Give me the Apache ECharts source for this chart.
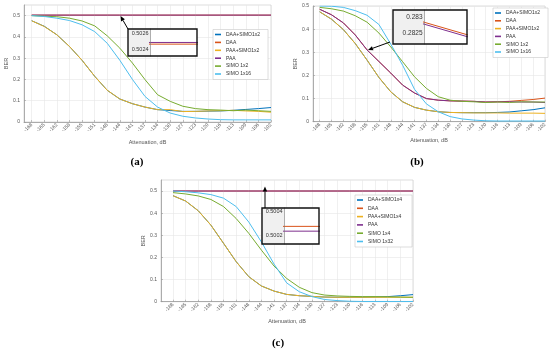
<!DOCTYPE html>
<html><head><meta charset="utf-8">
<script src="https://cdn.jsdelivr.net/npm/echarts@6/dist/echarts.min.js"></script>
<style>html,body{margin:0;padding:0;background:#fff}#c{width:550px;height:355px}</style>
</head><body><div id="c"></div>
<script>
// ---------- data ----------
const tickLabels = ['-168','-165','-162','-158','-155','-151','-148','-144','-141','-137','-134','-130','-127','-123','-120','-116','-113','-109','-106','-102'];
const xIndex = [0,1,2,3,4,5,6,7,8,9,10,11,12,13,14,15,16,17,18,19];
const yTicks = [0,0.1,0.2,0.3,0.4,0.5];

const namesAB = ['DAA+SIMO1x2','DAA','PAA+SIMO1x2','PAA','SIMO 1x2','SIMO 1x16'];
const namesC  = ['DAA+SIMO1x4','DAA','PAA+SIMO1x4','PAA','SIMO 1x4','SIMO 1x32'];

// (a)
const aDaaSimo = [0.476,0.45,0.41,0.355,0.29,0.215,0.149,0.108,0.086,0.07,0.058,0.054,0.05,0.05,0.051,0.052,0.055,0.059,0.063,0.068];
const aDaa     = [0.50247,0.50247,0.50247,0.50247,0.50247,0.50247,0.50247,0.50247,0.50247,0.50247,0.50247,0.50247,0.50247,0.50247,0.50247,0.50247,0.50247,0.50247,0.50247,0.50247];
const aPaaSimo = [0.476,0.449,0.41,0.355,0.29,0.215,0.149,0.108,0.086,0.07,0.058,0.058,0.049,0.05,0.052,0.053,0.055,0.052,0.05,0.046];
const aPaa     = [0.50249,0.50249,0.50249,0.50249,0.50249,0.50249,0.50249,0.50249,0.50249,0.50249,0.50249,0.50249,0.50249,0.50249,0.50249,0.50249,0.50249,0.50249,0.50249,0.50249];
const aSimo2   = [0.5,0.497,0.495,0.488,0.475,0.452,0.405,0.347,0.277,0.199,0.128,0.097,0.074,0.063,0.058,0.056,0.053,0.056,0.053,0.05];
const aSimo16  = [0.5,0.496,0.488,0.477,0.457,0.425,0.37,0.29,0.2,0.12,0.07,0.042,0.027,0.019,0.014,0.011,0.01,0.01,0.01,0.01];

// (b)
const bDaaSimo = [0.475,0.443,0.398,0.338,0.266,0.191,0.129,0.086,0.062,0.05,0.043,0.04,0.039,0.039,0.039,0.04,0.042,0.047,0.052,0.06];
const bDaa     = [0.486,0.462,0.427,0.375,0.31006,0.26006,0.21,0.158,0.124,0.1,0.093,0.09,0.089,0.088,0.085,0.086,0.088,0.092,0.096,0.102];
const bPaaSimo = [0.475,0.443,0.398,0.338,0.266,0.191,0.129,0.086,0.062,0.05,0.043,0.04,0.039,0.038,0.038,0.038,0.037,0.037,0.037,0.036];
const bPaa     = [0.486,0.462,0.427,0.375,0.31,0.26,0.21,0.158,0.124,0.1,0.093,0.09,0.089,0.088,0.085,0.086,0.086,0.085,0.085,0.083];
const bSimo2   = [0.494,0.488,0.478,0.458,0.43,0.383,0.323,0.259,0.194,0.144,0.108,0.093,0.088,0.086,0.083,0.085,0.083,0.086,0.085,0.085];
const bSimo16  = [0.5,0.499,0.494,0.48,0.46,0.42,0.335,0.244,0.14,0.077,0.043,0.022,0.012,0.007,0.004,0.003,0.003,0.003,0.003,0.003];

// (c)
const cDaaSimo = [0.479,0.455,0.411,0.346,0.264,0.181,0.113,0.071,0.048,0.033,0.027,0.024,0.021,0.02,0.02,0.02,0.021,0.023,0.027,0.032];
const cDaa     = [0.50028,0.50028,0.50028,0.50028,0.50028,0.50028,0.50028,0.50028,0.50028,0.50028,0.50028,0.50028,0.50028,0.50028,0.50028,0.50028,0.50028,0.50028,0.50028,0.50028];
const cPaaSimo = [0.479,0.455,0.411,0.346,0.264,0.181,0.113,0.071,0.048,0.033,0.027,0.024,0.021,0.02,0.02,0.02,0.02,0.02,0.02,0.02];
const cPaa     = [0.50024,0.50024,0.50024,0.50024,0.50024,0.50024,0.50024,0.50024,0.50024,0.50024,0.50024,0.50024,0.50024,0.50024,0.50024,0.50024,0.50024,0.50024,0.50024,0.50024];
const cSimo4   = [0.493,0.487,0.478,0.462,0.43,0.376,0.309,0.233,0.161,0.105,0.065,0.041,0.03,0.026,0.024,0.023,0.023,0.022,0.021,0.02];
const cSimo32  = [0.5,0.497,0.492,0.484,0.468,0.43,0.36,0.27,0.17,0.085,0.045,0.023,0.01,0.005,0.002,0.001,0.001,0.001,0.001,0.001];

const insetTicksA = [0.5024,0.5026];
const insetTicksB = [0.2825,0.283];
const insetTicksC = [0.5002,0.5004];

// ---------- styling ----------
const FONT = 'Liberation Sans';
const lineColors = ['#0072BD','#D95319','#EDB120','#7E2F8E','#77AC30','#4DBEEE'];
const axisGrey = '#9a9a9a';
const gridGrey = '#e6e6e6';
const labelGrey = '#555';

const chart = echarts.init(document.getElementById('c'), null, {renderer:'canvas'});

function mainX(gi, min, nameGap) {
  return {
    type:'value', gridIndex:gi, min:min, max:19,
    axisLine:{show:true, onZero:false, lineStyle:{color:axisGrey, width:0.8}},
    axisTick:{show:true, inside:true, length:2, customValues:xIndex, lineStyle:{color:axisGrey, width:0.6}},
    axisLabel:{customValues:xIndex, formatter:v => tickLabels[Math.round(v)], rotate:45, fontSize:5, margin:2, color:labelGrey, fontFamily:FONT},
    splitLine:{show:true, lineStyle:{color:gridGrey, width:0.6}},
    name:'Attenuation, dB', nameLocation:'middle', nameGap:nameGap,
    nameTextStyle:{fontSize:5.5, color:labelGrey, fontFamily:FONT}
  };
}
function mainY(gi, max) {
  return {
    type:'value', gridIndex:gi, min:0, max:max,
    axisLine:{show:true, onZero:false, lineStyle:{color:axisGrey, width:0.8}},
    axisTick:{show:true, inside:true, length:2, customValues:yTicks, lineStyle:{color:axisGrey, width:0.6}},
    axisLabel:{customValues:yTicks, fontSize:5, margin:4, color:labelGrey, fontFamily:FONT},
    splitLine:{show:true, lineStyle:{color:gridGrey, width:0.6}},
    name:'BER', nameLocation:'middle', nameGap:12,
    nameTextStyle:{fontSize:5.5, color:labelGrey, fontFamily:FONT}
  };
}
function insetX(gi, min, max) {
  return {type:'value', gridIndex:gi, min:min, max:max, show:false};
}
function insetY(gi, min, max, ticks, fs) {
  return {
    type:'value', gridIndex:gi, min:min, max:max, z:6,
    axisLine:{show:true, onZero:false, lineStyle:{color:'#777', width:0.6}},
    axisTick:{show:false},
    axisLabel:{customValues:ticks, formatter:v => String(+v.toFixed(4)), fontSize:fs, margin:1.5, color:'#333', fontFamily:FONT},
    splitLine:{show:false}
  };
}

function seriesSet(names, arrays, xi, yi, z) {
  return arrays.map((arr, k) => ({
    name:names[k], type:'line', xAxisIndex:xi, yAxisIndex:yi,
    data:arr.map((v, i) => [xIndex[i], v]),
    showSymbol:false, symbol:'none', z:z, clip:true,
    color:lineColors[k],
    lineStyle:{width:1, color:lineColors[k]},
    animation:false
  }));
}
function insetSet(names, arrays, colorIdx, xi, yi) {
  return arrays.map((arr, k) => ({
    name:names[k], type:'line', xAxisIndex:xi, yAxisIndex:yi,
    data:arr.map((v, i) => [xIndex[i], v]),
    showSymbol:false, symbol:'none', z:4, clip:true,
    color:lineColors[colorIdx[k]],
    lineStyle:{width:1, color:lineColors[colorIdx[k]]},
    animation:false
  }));
}

function legend(names, left, top, gap, padRight) {
  return {
    data:names, orient:'vertical', left:left, top:top,
    icon:'rect', itemWidth:6, itemHeight:1.6, itemGap:gap,
    padding:[2, padRight, 2.5, 2],
    backgroundColor:'#fff', borderColor:'#c8c8c8', borderWidth:0.6,
    textStyle:{fontSize:5, lineHeight:6, color:'#333', fontFamily:FONT},
    selectedMode:false, z:5
  };
}

function arrow(x1, y1, x2, y2) {
  const dx = x2 - x1, dy = y2 - y1, L = Math.hypot(dx, dy);
  const ux = dx / L, uy = dy / L, px = -uy, py = ux;
  const hl = 5, hw = 2.2;
  const bx = x2 - ux * hl, by = y2 - uy * hl;
  return [
    {type:'line', z:10, shape:{x1:x1, y1:y1, x2:bx, y2:by}, style:{stroke:'#000', lineWidth:1}},
    {type:'polygon', z:10, shape:{points:[[x2, y2],[bx + px*hw, by + py*hw],[bx - px*hw, by - py*hw]]}, style:{fill:'#000'}}
  ];
}
function insetFrame(x, y, w, h, plotX) {
  return [
    {type:'rect', z:1, shape:{x:x, y:y, width:w, height:h}, style:{fill:'#f0f0f0'}},
    {type:'rect', z:1, shape:{x:plotX, y:y, width:x + w - plotX, height:h}, style:{fill:'#fff'}},
    {type:'rect', z:10, shape:{x:x, y:y, width:w, height:h}, style:{fill:'none', stroke:'#111', lineWidth:1.4}}
  ];
}
function panelLabel(text, x, y) {
  return {type:'text', z:10, x:x, y:y, style:{text:text, font:'bold 11px "Liberation Serif"', fill:'#000', align:'center', verticalAlign:'middle'}};
}

const option = {
  animation:false,
  backgroundColor:'#fff',
  textStyle:{fontFamily:FONT},
  grid:[
    {left:24, top:5, width:247, height:117, show:true, borderColor:'#c8c8c8', borderWidth:0.6, backgroundColor:'#fff'},
    {left:313, top:6, width:232, height:115.7, show:true, borderColor:'#c8c8c8', borderWidth:0.6, backgroundColor:'#fff'},
    {left:161, top:180, width:252, height:121.7, show:true, borderColor:'#c8c8c8', borderWidth:0.6, backgroundColor:'#fff'},
    {left:150, top:29, width:47, height:27},
    {left:424, top:10, width:43, height:34},
    {left:284, top:208, width:35, height:36}
  ],
  xAxis:[
    mainX(0, -0.61, 17),
    mainX(1, -0.56, 16),
    mainX(2, -0.95, 17),
    insetX(3, 7, 7.5),
    insetX(4, 4.5444, 4.5522),
    insetX(5, 7, 7.5)
  ],
  yAxis:[
    Object.assign(mainY(0, 0.55), {}),
    mainY(1, 0.5),
    mainY(2, 0.55),
    insetY(3, 0.502328, 0.502651, insetTicksA, 5.5),
    insetY(4, 0.28216, 0.28322, insetTicksB, 6.5),
    insetY(5, 0.500133, 0.500433, insetTicksC, 5.5)
  ],
  legend:[
    legend(namesAB, 213, 29.5, 1.9, 8),
    legend(namesAB, 493, 8, 1.8, 8),
    legend(namesC, 355, 195, 2.3, 10)
  ],
  series:[].concat(
    seriesSet(namesAB, [aDaaSimo,aDaa,aPaaSimo,aPaa,aSimo2,aSimo16], 0, 0, 2),
    seriesSet(namesAB, [bDaaSimo,bDaa,bPaaSimo,bPaa,bSimo2,bSimo16], 1, 1, 2),
    seriesSet(namesC,  [cDaaSimo,cDaa,cPaaSimo,cPaa,cSimo4,cSimo32], 2, 2, 2),
    insetSet(['DAA','PAA'], [aDaa,aPaa], [1,3], 3, 3),
    insetSet(['DAA','PAA'], [bDaa,bPaa], [1,3], 4, 4),
    insetSet(['DAA','PAA'], [cDaa,cPaa], [1,3], 5, 5)
  ),
  graphic:{elements:[].concat(
    insetFrame(128, 29, 69, 27, 150),
    insetFrame(393, 10, 74, 34, 424),
    insetFrame(262, 208, 57, 36, 284),
    arrow(128, 29, 120.5, 16),
    arrow(390, 42, 368, 50),
    arrow(265, 208, 265, 186.5),
    [panelLabel('(a)', 137, 162), panelLabel('(b)', 417, 162), panelLabel('(c)', 278, 343)]
  )}
};
chart.setOption(option);
</script>
</body></html>
